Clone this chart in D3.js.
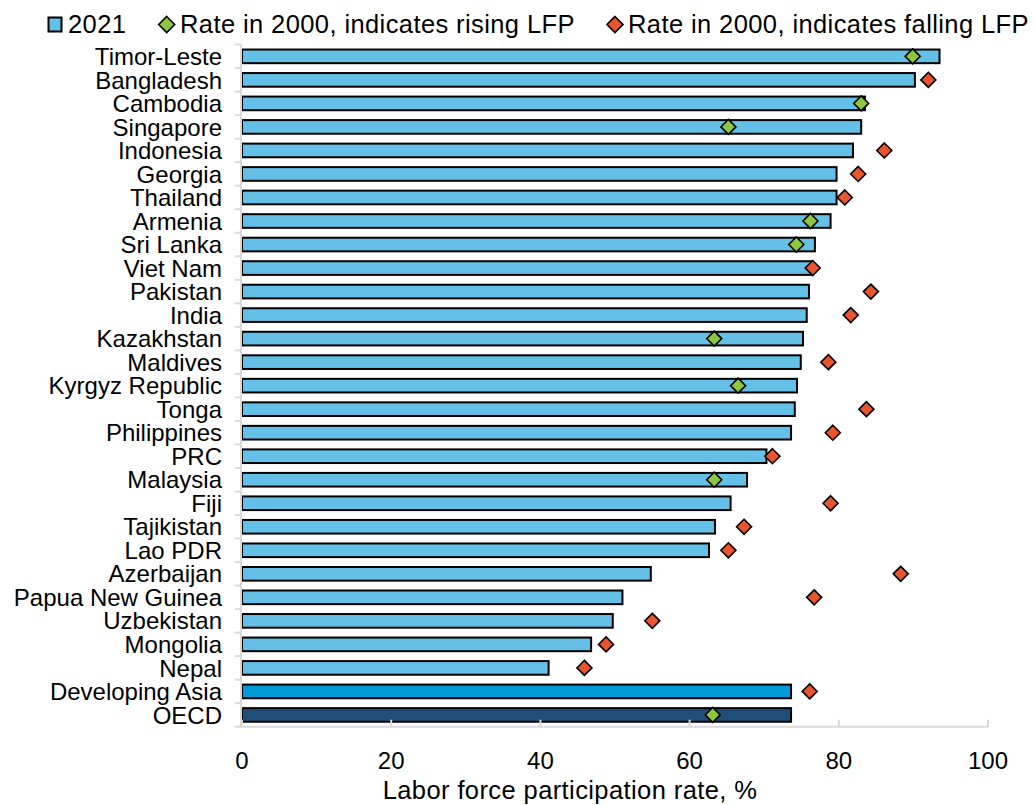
<!DOCTYPE html>
<html>
<head>
<meta charset="utf-8">
<script src="https://cdn.jsdelivr.net/npm/d3@7"></script>
<style>
  html, body { margin: 0; padding: 0; background: #fff; }
  svg { display: block; font-family: "Liberation Sans", Arial, sans-serif; }
</style>
</head>
<body>
<svg id="chart" width="1035" height="805"></svg>
<script>
const categories = ["Timor-Leste","Bangladesh","Cambodia","Singapore","Indonesia","Georgia","Thailand","Armenia","Sri Lanka","Viet Nam","Pakistan","India","Kazakhstan","Maldives","Kyrgyz Republic","Tonga","Philippines","PRC","Malaysia","Fiji","Tajikistan","Lao PDR","Azerbaijan","Papua New Guinea","Uzbekistan","Mongolia","Nepal","Developing Asia","OECD"];
const rate2021 = [93.5, 90.2, 83.5, 83.0, 81.9, 79.7, 79.7, 78.9, 76.8, 76.3, 76.0, 75.7, 75.2, 74.9, 74.4, 74.1, 73.6, 70.3, 67.7, 65.5, 63.4, 62.6, 54.8, 51.0, 49.7, 46.8, 41.1, 73.6, 73.6];
const rate2000 = [89.9, 92.0, 83.0, 65.2, 86.1, 82.6, 80.8, 76.2, 74.3, 76.5, 84.3, 81.6, 63.3, 78.6, 66.5, 83.7, 79.2, 71.1, 63.3, 78.9, 67.3, 65.2, 88.3, 76.7, 55.0, 48.8, 45.9, 76.1, 63.1];
const xTicks = [0, 20, 40, 60, 80, 100];
const legendLabels = ["2021", "Rate in 2000, indicates rising LFP", "Rate in 2000, indicates falling LFP"];
const axisTitle = "Labor force participation rate, %";

const colors = { bar: "#64C0E6", devAsia: "#009AD8", oecd: "#1F4E79", rising: "#8DC63F", falling: "#E9552F", axis: "#D9D9D9" };

const svg = d3.select("#chart");
const plotLeft = 242, plotRight = 988, plotTop = 44.6, plotBottom = 726.7;

const x = d3.scaleLinear().domain([0, 100]).range([plotLeft, plotRight]);
const y = d3.scaleBand().domain(categories).range([plotTop, plotBottom]).paddingInner(0.42).paddingOuter(0.21);

const data = categories.map((c, i) => ({ c, v21: rate2021[i], v00: rate2000[i] }));

// Bars
svg.append("g").selectAll("rect").data(data).join("rect")
  .attr("x", x(0))
  .attr("y", d => y(d.c))
  .attr("width", d => x(d.v21) - x(0))
  .attr("height", y.bandwidth())
  .attr("fill", d => d.c === "OECD" ? colors.oecd : d.c === "Developing Asia" ? colors.devAsia : colors.bar)
  .attr("stroke", "#000")
  .attr("stroke-width", 2);

// Axes lines
const axisG = svg.append("g").attr("stroke", colors.axis).attr("stroke-width", 2).attr("fill", "none");
axisG.append("line").attr("x1", plotLeft - 1).attr("x2", plotLeft - 1).attr("y1", plotTop).attr("y2", plotBottom);
axisG.append("line").attr("x1", plotLeft - 1).attr("x2", plotRight).attr("y1", plotBottom).attr("y2", plotBottom);
const step = y.step();
d3.range(categories.length + 1).forEach(i => {
  const yy = plotTop + i * step;
  axisG.append("line").attr("x1", plotLeft - 7).attr("x2", plotLeft - 1).attr("y1", yy).attr("y2", yy);
});
xTicks.forEach(t => {
  axisG.append("line").attr("x1", x(t)).attr("x2", x(t)).attr("y1", plotBottom - 7).attr("y2", plotBottom);
});

// Diamonds
const diamond = (cx, cy, r) => `M${cx},${cy - r}L${cx + r},${cy}L${cx},${cy + r}L${cx - r},${cy}Z`;
svg.append("g").selectAll("path").data(data).join("path")
  .attr("d", d => diamond(x(d.v00), y(d.c) + y.bandwidth() / 2, 7.5))
  .attr("fill", d => d.v00 < d.v21 ? colors.rising : colors.falling)
  .attr("stroke", "#000")
  .attr("stroke-width", 1.6);

// Category labels
svg.append("g").selectAll("text").data(categories).join("text")
  .attr("x", 222)
  .attr("y", d => y(d) + y.bandwidth() / 2)
  .attr("dy", "0.36em")
  .attr("text-anchor", "end")
  .attr("font-size", 24)
  .attr("fill", "#000")
  .text(d => d);

// X tick labels
svg.append("g").selectAll("text").data(xTicks).join("text")
  .attr("x", d => x(d))
  .attr("y", 769)
  .attr("text-anchor", "middle")
  .attr("font-size", 24)
  .attr("fill", "#000")
  .text(d => d);

// Axis title
svg.append("text")
  .attr("x", 570)
  .attr("y", 799)
  .attr("text-anchor", "middle")
  .attr("font-size", 25.5)
  .attr("letter-spacing", 0.4)
  .attr("fill", "#000")
  .text(axisTitle);

// Legend
const lg = svg.append("g");
lg.append("rect").attr("x", 48.5).attr("y", 17.5).attr("width", 13).attr("height", 14)
  .attr("fill", colors.bar).attr("stroke", "#000").attr("stroke-width", 2);
lg.append("text").attr("x", 68).attr("y", 33).attr("font-size", 25.5).attr("letter-spacing", 0.4).text(legendLabels[0]);
lg.append("path").attr("d", diamond(166.7, 24.5, 8)).attr("fill", colors.rising).attr("stroke", "#000").attr("stroke-width", 1.6);
lg.append("text").attr("x", 180).attr("y", 33).attr("font-size", 25.5).attr("letter-spacing", 0.4).text(legendLabels[1]);
lg.append("path").attr("d", diamond(615, 24.5, 8)).attr("fill", colors.falling).attr("stroke", "#000").attr("stroke-width", 1.6);
lg.append("text").attr("x", 628).attr("y", 33).attr("font-size", 25.5).attr("letter-spacing", 0.4).text(legendLabels[2]);
</script>
</body>
</html>
